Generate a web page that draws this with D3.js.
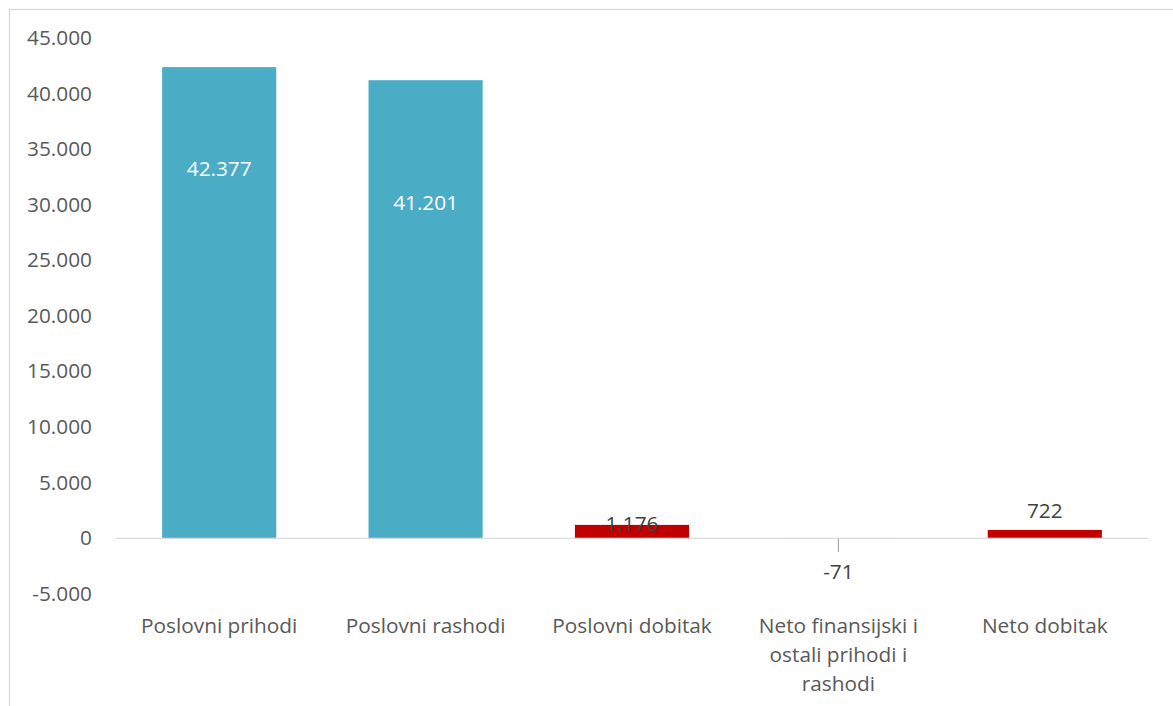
<!DOCTYPE html>
<html><head><meta charset="utf-8">
<script src="https://cdn.jsdelivr.net/npm/d3@7"></script>
<style>body{margin:0;background:#fff}svg{display:block}text{font-family:"Open Sans",sans-serif}</style>
</head><body>
<svg id="c" width="1173" height="706"></svg>
<script>
const categories = ["Poslovni prihodi","Poslovni rashodi","Poslovni dobitak","Neto finansijski i ostali prihodi i rashodi","Neto dobitak"];
const catLines = [["Poslovni prihodi"],["Poslovni rashodi"],["Poslovni dobitak"],["Neto finansijski i","ostali prihodi i","rashodi"],["Neto dobitak"]];
const values = [42377, 41201, 1176, -71, 722];
const valueLabels = ["42.377","41.201","1.176","-71","722"];
const barColors = ["#4BACC6","#4BACC6","#C00000","#E6A0A0","#C00000"];
const yTicks = [-5000,0,5000,10000,15000,20000,25000,30000,35000,40000,45000];
const fmt = v => (v<0?"-":"") + d3.format(",")(Math.abs(v)).replace(/,/g,".");

const svg = d3.select("#c");
svg.append("rect").attr("x",9.5).attr("y",9.5).attr("width",1170).attr("height",710)
  .attr("fill","#fff").attr("stroke","#d9d9d9").attr("stroke-width",1.3);

const y = d3.scaleLinear().domain([-5000,45000]).range([593.5,38]);
const x = d3.scaleBand().domain(categories).range([116,1148]).paddingInner(0.447).paddingOuter(0.2235);

const FS = 20.8;
// y axis labels
const ya = svg.append("g").attr("transform","translate(92,0)")
  .call(d3.axisLeft(y).tickValues(yTicks).tickFormat(fmt).tickSize(0).tickPadding(0));
ya.select(".domain").remove();
ya.selectAll("text").attr("font-size",FS).attr("fill","#595959").attr("font-family","Open Sans, sans-serif");

// bars
svg.selectAll("rect.bar").data(values).enter().append("rect").attr("class","bar")
  .attr("x",(d,i)=>x(categories[i])).attr("width",x.bandwidth())
  .attr("y",d=>y(Math.max(0,d))).attr("height",d=>Math.max(0.8,Math.abs(y(d)-y(0))))
  .attr("fill",(d,i)=>barColors[i]);

// zero line
svg.append("line").attr("x1",116).attr("x2",1148).attr("y1",y(0)+0.5).attr("y2",y(0)+0.5)
  .attr("stroke","#d9d9d9").attr("stroke-width",1.3);

// small leader tick at negative bar
svg.append("line").attr("x1",x(categories[3])+x.bandwidth()/2).attr("x2",x(categories[3])+x.bandwidth()/2)
  .attr("y1",y(0)+1).attr("y2",y(0)+14).attr("stroke","#a6a6a6").attr("stroke-width",1.2);

// value labels
const labelOffset = [102, 123, 0, 0, 0];
svg.selectAll("text.val").data(values).enter().append("text").attr("class","val")
  .attr("x",(d,i)=>x(categories[i])+x.bandwidth()/2)
  .attr("y",(d,i)=> i<2 ? y(d)+labelOffset[i] : (d<0 ? y(0)+34 : (i===2 ? y(d)-1 : y(d)-19)))
  .attr("dy","0.35em").attr("text-anchor","middle").attr("font-size",FS)
  .attr("fill",(d,i)=> i<2 ? "#fff" : "#404040")
  .text((d,i)=>valueLabels[i]);

// category labels
catLines.forEach((lines,i)=>{
  const cx = x(categories[i])+x.bandwidth()/2;
  const t = svg.append("text").attr("x",cx).attr("y",626)
    .attr("text-anchor","middle").attr("font-size",FS).attr("fill","#595959");
  lines.forEach((l,j)=>t.append("tspan").attr("x",cx)
    .attr("dy", j===0 ? "0.35em" : 29).text(l));
});
</script>
</body></html>
